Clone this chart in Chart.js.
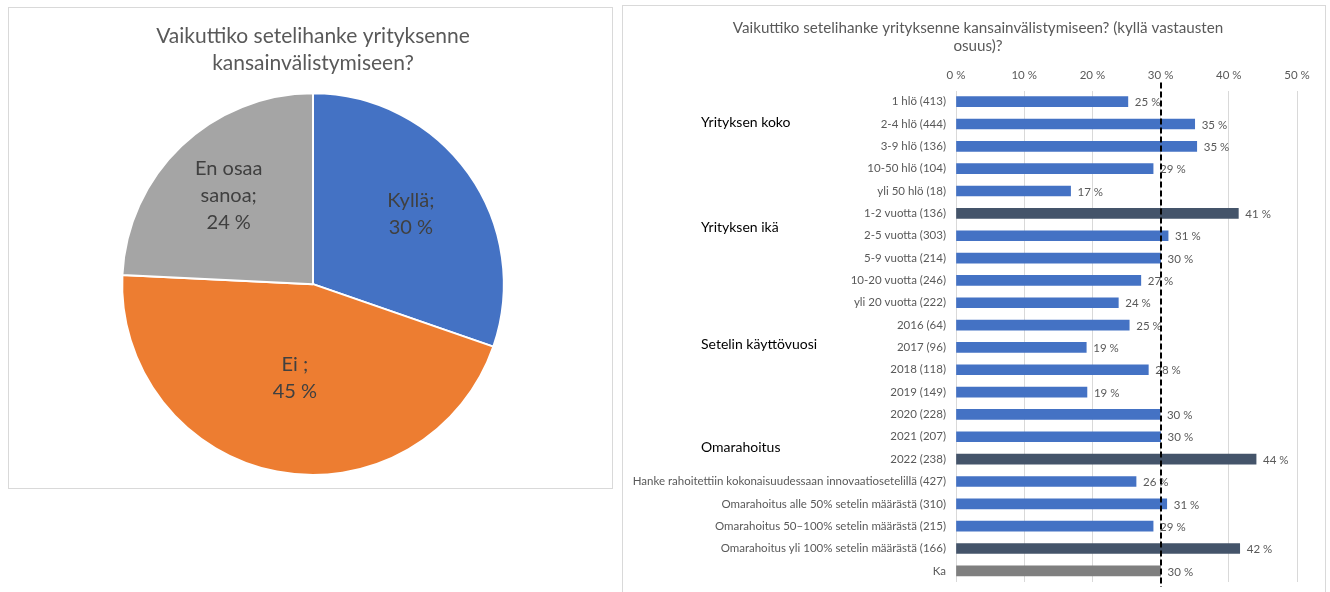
<!DOCTYPE html>
<html>
<head>
<meta charset="utf-8">
<script src="https://cdn.jsdelivr.net/npm/chart.js@4.4.0/dist/chart.umd.min.js"></script>
<style>
  body { margin: 0; background: #fff; width: 1330px; height: 592px; position: relative; overflow: hidden; font-family: Lato, sans-serif; }
  .box { position: absolute; border: 1px solid #d9d9d9; box-sizing: border-box; }
  canvas { position: absolute; }
</style>
</head>
<body>
<div class="box" style="left:8px;top:7px;width:605px;height:482px"></div>
<div class="box" style="left:622px;top:5px;width:704px;height:600px"></div>
<canvas id="pie" width="604" height="481" style="left:8px;top:7px"></canvas>
<canvas id="bars" width="703" height="587" style="left:622px;top:5px"></canvas>
<script>
// pie: "Vaikuttiko setelihanke yrityksenne kansainvälistymiseen?"
const pieLabels = ['Kyllä', 'Ei', 'En osaa sanoa'];
const pieValues = [30, 45, 24];
const pieTextLines = [['Kyllä;'], ['Ei ;'], ['En osaa', 'sanoa;']];
const pieColors = ['#4472C4', '#ED7D31', '#A5A5A5'];
const pieLabelRadius = [0.63, 0.5, 0.64];

// bars: share of "kyllä" answers
const barTitle = ['Vaikuttiko setelihanke yrityksenne kansainvälistymiseen? (kyllä vastausten', 'osuus)?'];
const barLabels = [
  '1 hlö (413)', '2-4 hlö (444)', '3-9 hlö (136)', '10-50 hlö (104)', 'yli 50 hlö (18)',
  '1-2 vuotta (136)', '2-5 vuotta (303)', '5-9 vuotta (214)', '10-20 vuotta (246)', 'yli 20 vuotta (222)',
  '2016 (64)', '2017 (96)', '2018 (118)', '2019 (149)', '2020 (228)', '2021 (207)', '2022 (238)',
  'Hanke rahoitettiin kokonaisuudessaan innovaatiosetelillä (427)',
  'Omarahoitus alle 50% setelin määrästä (310)',
  'Omarahoitus 50–100% setelin määrästä (215)',
  'Omarahoitus yli 100% setelin määrästä (166)',
  'Ka'
];
const barValues = [25.2, 35.0, 35.3, 28.9, 16.8, 41.4, 31.1, 30.0, 27.1, 23.8, 25.4, 19.1, 28.2, 19.2, 29.9, 30.0, 44.0, 26.4, 30.9, 28.9, 41.6, 30.0];
// 0 = normal, 1 = highlighted, 2 = average
const barKind = [0, 0, 0, 0, 0, 1, 0, 0, 0, 0, 0, 0, 0, 0, 0, 0, 1, 0, 0, 0, 1, 2];
const kindColors = ['#4472C4', '#44546A', '#7F7F7F'];
const avgLine = 30;
const xTicks = [0, 10, 20, 30, 40, 50];

const groupLabels = ['Yrityksen koko', 'Yrityksen ikä', 'Setelin käyttövuosi', 'Omarahoitus'];
const groupRows = [0.95, 5.65, 10.85, 15.5];

Chart.defaults.font.family = 'Lato, sans-serif';
Chart.defaults.animation = false;

const pieText = {
  id: 'pieText',
  afterDatasetsDraw(chart) {
    const ctx = chart.ctx;
    const meta = chart.getDatasetMeta(0);
    ctx.save();
    ctx.font = '20px Lato';
    ctx.fillStyle = '#404040';
    ctx.textAlign = 'center';
    ctx.textBaseline = 'middle';
    meta.data.forEach((arc, i) => {
      const p = arc.getProps(['x', 'y', 'startAngle', 'endAngle', 'outerRadius'], true);
      const mid = (p.startAngle + p.endAngle) / 2;
      const r = p.outerRadius * pieLabelRadius[i];
      const cx = p.x + Math.cos(mid) * r;
      const cy = p.y + Math.sin(mid) * r;
      const lines = pieTextLines[i].concat([Math.round(pieValues[i]) + ' %']);
      const lh = 27;
      lines.forEach((t, j) => {
        ctx.fillText(t, cx, cy + (j - (lines.length - 1) / 2) * lh);
      });
    });
    ctx.restore();
  }
};

new Chart(document.getElementById('pie'), {
  type: 'pie',
  data: {
    labels: pieLabels,
    datasets: [{ data: pieValues, backgroundColor: pieColors, borderColor: '#fff', borderWidth: 2 }]
  },
  options: {
    responsive: false,
    layout: { padding: { left: 6, bottom: 12 } },
    plugins: {
      legend: { display: false },
      tooltip: { enabled: false },
      title: {
        display: true,
        text: ['Vaikuttiko setelihanke yrityksenne', 'kansainvälistymiseen?'],
        color: '#595959',
        font: { size: 21, weight: 'normal', lineHeight: 1.27 },
        padding: { top: 16, bottom: 16 }
      }
    }
  },
  plugins: [pieText]
});

const barExtras = {
  id: 'barExtras',
  afterDatasetsDraw(chart) {
    const ctx = chart.ctx;
    const meta = chart.getDatasetMeta(0);
    const x = chart.scales.x, y = chart.scales.y;
    ctx.save();
    ctx.font = '11.5px Lato';
    ctx.fillStyle = '#595959';
    ctx.textAlign = 'left';
    ctx.textBaseline = 'middle';
    meta.data.forEach((bar, i) => {
      ctx.fillText(Math.round(barValues[i]) + ' %', bar.x + 7, bar.y + 1);
    });
    // average line
    const ax = Math.round(x.getPixelForValue(avgLine));
    ctx.strokeStyle = '#000';
    ctx.lineWidth = 2;
    ctx.setLineDash([6, 3]);
    ctx.beginPath();
    ctx.moveTo(ax, chart.chartArea.top - 8);
    ctx.lineTo(ax, chart.chartArea.bottom + 5);
    ctx.stroke();
    ctx.setLineDash([]);
    // group headings
    ctx.font = '14px Lato';
    ctx.fillStyle = '#000';
    groupLabels.forEach((t, i) => {
      ctx.fillText(t, 79, y.getPixelForValue(groupRows[i]));
    });
    // title, centred on the whole panel
    ctx.font = '15.2px Lato';
    ctx.fillStyle = '#595959';
    ctx.textAlign = 'center';
    barTitle.forEach((t, i) => {
      ctx.fillText(t, 356, 23 + i * 18);
    });
    ctx.restore();
  }
};

new Chart(document.getElementById('bars'), {
  type: 'bar',
  data: {
    labels: barLabels,
    datasets: [{
      data: barValues,
      backgroundColor: barKind.map(k => kindColors[k]),
      barThickness: 10
    }]
  },
  options: {
    responsive: false,
    indexAxis: 'y',
    layout: { padding: { top: 50, right: 28, bottom: 10 } },
    plugins: {
      legend: { display: false },
      tooltip: { enabled: false },
      title: { display: false }
    },
    scales: {
      x: {
        position: 'top',
        min: 0,
        max: 50,
        afterBuildTicks(scale) { scale.ticks = xTicks.map(v => ({ value: v })); },
        afterFit(scale) { scale.height = 35.5; },
        ticks: { color: '#595959', font: { size: 11.5 }, padding: 8, callback: v => v + ' %' },
        grid: { color: '#d9d9d9', drawTicks: false },
        border: { display: false }
      },
      y: {
        afterFit(scale) {
          scale.width = 334;
          scale.paddingTop = 0;
          scale.paddingBottom = 0;
        },
        ticks: { color: '#595959', font: { size: 11.5 }, padding: 10, autoSkip: false },
        grid: { display: false, drawTicks: false },
        border: { display: false }
      }
    }
  },
  plugins: [barExtras]
});
</script>
</body>
</html>
